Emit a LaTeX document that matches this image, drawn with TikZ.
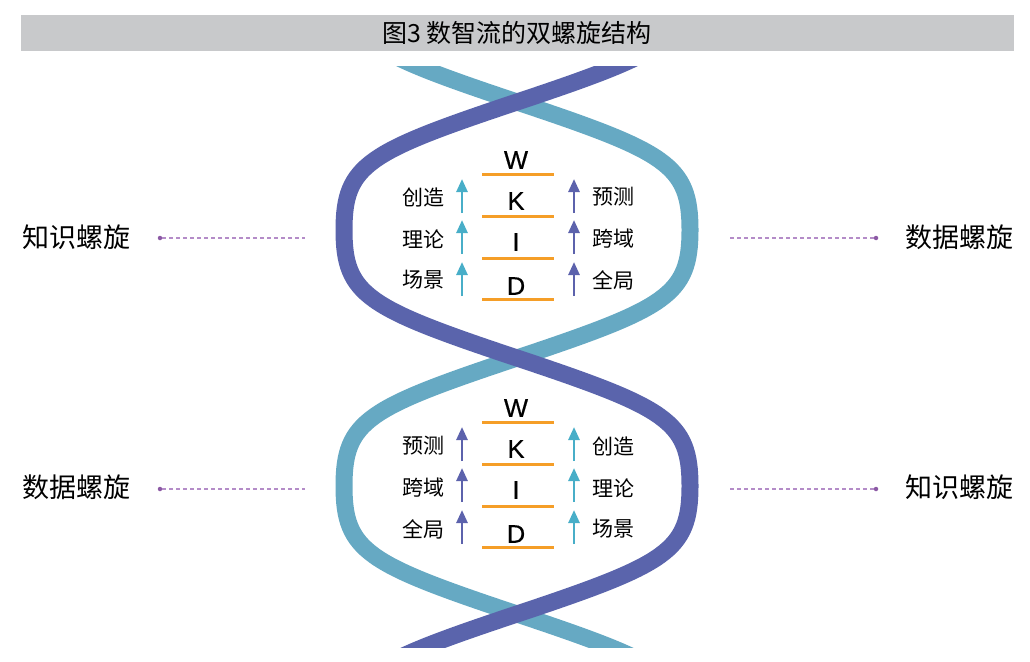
\documentclass[tikz,border=0pt]{standalone}
\usepackage{fontspec}
\setmainfont{Liberation Sans}
\newfontfamily\cjk{Noto Sans CJK SC}
\newfontfamily\letterfont[FakeBold=0.6]{Liberation Sans}
\usetikzlibrary{arrows.meta}
\definecolor{strandP}{RGB}{90,100,172}
\definecolor{strandT}{RGB}{102,169,195}
\definecolor{lineO}{RGB}{245,158,40}
\definecolor{arrT}{RGB}{72,174,200}
\definecolor{arrP}{RGB}{92,98,172}
\definecolor{barG}{RGB}{200,201,203}
\definecolor{dotL}{RGB}{180,140,200}
\definecolor{dotD}{RGB}{140,90,165}
\tikzset{
  strand/.style={line width=17pt, line cap=butt},
  letter/.style={font=\letterfont\fontsize{25.5}{30}\selectfont, inner sep=0pt},
  lab/.style={font=\cjk\fontsize{21}{24}\selectfont, inner sep=0pt},
  side/.style={font=\cjk\fontsize{27}{30}\selectfont, inner sep=0pt},
  rung/.style={draw=lineO, line width=3pt},
  uparrT/.style={draw=arrT, line width=2.6pt, -{Triangle[width=11pt,length=13pt]}},
  uparrP/.style={draw=arrP, line width=2.6pt, -{Triangle[width=11pt,length=13pt]}},
  leader/.style={draw=dotL, line width=1.1pt, dash pattern=on 4pt off 3pt},
  leaddot/.style={circle, fill=dotD, inner sep=0pt, minimum size=4.5pt}
}
\begin{document}
\begin{tikzpicture}[x=1pt,y=-1pt]
\useasboundingbox (0,0) rectangle (1030,661);
% title bar
\fill[barG] (21,15) rectangle (1014,51);
\node[font=\cjk\fontsize{25}{28}\selectfont, inner sep=0pt] (title) at (517,33) {图3 数智流的双螺旋结构};
% helix
\begin{scope}
\clip (0,67) rectangle (1030,647);
\draw[strand, strandT] (344,-26) .. controls (344,39) and (367,52) .. (517,102)
  .. controls (667,152) and (690,165) .. (690,230)
  .. controls (690,295) and (667,308) .. (517,358)
  .. controls (367,408) and (344,421) .. (344,486)
  .. controls (344,551) and (367,564) .. (517,614)
  .. controls (667,664) and (690,677) .. (690,742);
\draw[strand, strandP] (690,-26) .. controls (690,39) and (667,52) .. (517,102)
  .. controls (367,152) and (344,165) .. (344,230)
  .. controls (344,295) and (367,308) .. (517,358)
  .. controls (667,408) and (690,421) .. (690,486)
  .. controls (690,551) and (667,564) .. (517,614)
  .. controls (367,664) and (344,677) .. (344,742);
\end{scope}
% ---------- upper block ----------
\node[letter] (W1) at (516,160) {W};
\node[letter] (K1) at (516,201) {K};
\node[letter] (I1) at (516,242) {I};
\node[letter] (D1) at (516,286) {D};
\coordinate (r1a) at (482,174); \coordinate (r1b) at (554,174);
\coordinate (r2a) at (482,216); \coordinate (r2b) at (554,216);
\coordinate (r3a) at (482,258); \coordinate (r3b) at (554,258);
\coordinate (r4a) at (482,299); \coordinate (r4b) at (554,299);
\draw[rung] (r1a) -- (r1b);
\draw[rung] (r2a) -- (r2b);
\draw[rung] (r3a) -- (r3b);
\draw[rung] (r4a) -- (r4b);
\coordinate (la1b) at (462,213); \coordinate (la1t) at (462,179);
\coordinate (la2b) at (462,254); \coordinate (la2t) at (462,220);
\coordinate (la3b) at (462,296); \coordinate (la3t) at (462,262);
\coordinate (ra1b) at (574,213); \coordinate (ra1t) at (574,179);
\coordinate (ra2b) at (574,254); \coordinate (ra2t) at (574,220);
\coordinate (ra3b) at (574,296); \coordinate (ra3t) at (574,262);
\draw[uparrT] (la1b) -- (la1t);
\draw[uparrT] (la2b) -- (la2t);
\draw[uparrT] (la3b) -- (la3t);
\draw[uparrP] (ra1b) -- (ra1t);
\draw[uparrP] (ra2b) -- (ra2t);
\draw[uparrP] (ra3b) -- (ra3t);
\node[lab] (u1) at (423,197) {创造};
\node[lab] (u2) at (423,239) {理论};
\node[lab] (u3) at (423,280) {场景};
\node[lab] (u4) at (613,197) {预测};
\node[lab] (u5) at (613,239) {跨域};
\node[lab] (u6) at (613,280) {全局};
% ---------- lower block ----------
\node[letter] (W2) at (516,408) {W};
\node[letter] (K2) at (516,449) {K};
\node[letter] (I2) at (516,490) {I};
\node[letter] (D2) at (516,534) {D};
\coordinate (s1a) at (482,422); \coordinate (s1b) at (554,422);
\coordinate (s2a) at (482,464); \coordinate (s2b) at (554,464);
\coordinate (s3a) at (482,506); \coordinate (s3b) at (554,506);
\coordinate (s4a) at (482,547); \coordinate (s4b) at (554,547);
\draw[rung] (s1a) -- (s1b);
\draw[rung] (s2a) -- (s2b);
\draw[rung] (s3a) -- (s3b);
\draw[rung] (s4a) -- (s4b);
\coordinate (lb1b) at (462,461); \coordinate (lb1t) at (462,427);
\coordinate (lb2b) at (462,502); \coordinate (lb2t) at (462,468);
\coordinate (lb3b) at (462,544); \coordinate (lb3t) at (462,510);
\coordinate (rb1b) at (574,461); \coordinate (rb1t) at (574,427);
\coordinate (rb2b) at (574,502); \coordinate (rb2t) at (574,468);
\coordinate (rb3b) at (574,544); \coordinate (rb3t) at (574,510);
\draw[uparrP] (lb1b) -- (lb1t);
\draw[uparrP] (lb2b) -- (lb2t);
\draw[uparrP] (lb3b) -- (lb3t);
\draw[uparrT] (rb1b) -- (rb1t);
\draw[uparrT] (rb2b) -- (rb2t);
\draw[uparrT] (rb3b) -- (rb3t);
\node[lab] (v1) at (423,446) {预测};
\node[lab] (v2) at (423,488) {跨域};
\node[lab] (v3) at (423,529) {全局};
\node[lab] (v4) at (613,446) {创造};
\node[lab] (v5) at (613,488) {理论};
\node[lab] (v6) at (613,529) {场景};
% ---------- side labels ----------
\node[side] (sL1) at (76.5,237) {知识螺旋};
\node[side] (sR1) at (959,237) {数据螺旋};
\node[side] (sL2) at (76.5,487) {数据螺旋};
\node[side] (sR2) at (959,487) {知识螺旋};
\node[leaddot] (dL1) at (160,238) {};
\coordinate (eL1) at (305,238);
\draw[leader] (dL1) -- (eL1);
\node[leaddot] (dR1) at (876,238) {};
\coordinate (eR1) at (730,238);
\draw[leader] (eR1) -- (dR1);
\node[leaddot] (dL2) at (160,489) {};
\coordinate (eL2) at (305,489);
\draw[leader] (dL2) -- (eL2);
\node[leaddot] (dR2) at (876,489) {};
\coordinate (eR2) at (730,489);
\draw[leader] (eR2) -- (dR2);
\end{tikzpicture}
\end{document}
